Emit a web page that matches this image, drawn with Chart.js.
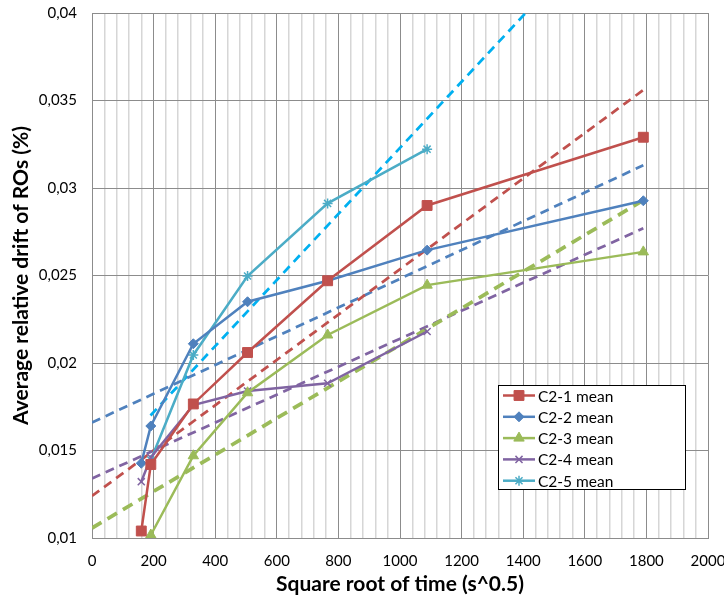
<!DOCTYPE html>
<html>
<head>
<meta charset="utf-8">
<script src="https://cdn.jsdelivr.net/npm/chart.js@4.4.1/dist/chart.umd.min.js"></script>
<style>
  html, body { margin: 0; padding: 0; background: #fff; }
  #wrap { width: 724px; height: 599px; position: relative; }
</style>
</head>
<body>
<div id="wrap"><canvas id="chart" width="724" height="599"></canvas></div>
<script>
// values (sqrt of time vs mean drift)
const labels = ['C2-1 mean', 'C2-2 mean', 'C2-3 mean', 'C2-4 mean', 'C2-5 mean'];
const xC1 = [160, 191, 329, 505, 765, 1088, 1790];
const yC1 = [0.0104, 0.0142, 0.01766, 0.0206, 0.0247, 0.029, 0.0329];
const xC2 = [160, 191, 329, 505, 765, 1088, 1790];
const yC2 = [0.01427, 0.0164, 0.0211, 0.0235, 0.0247, 0.02645, 0.02927];
const xC3 = [191, 329, 505, 765, 1088, 1790];
const yC3 = [0.01017, 0.0147, 0.0183, 0.0216, 0.02445, 0.02635];
const xC4 = [160, 191, 329, 505, 765, 1088];
const yC4 = [0.01322, 0.0146, 0.0176, 0.0184, 0.01884, 0.0218];
const xC5 = [191, 329, 505, 765, 1088];
const yC5 = [0.01446, 0.02046, 0.02497, 0.02912, 0.03222];

// trend lines (end points)
const trendX1 = [0, 1790], trendY1 = [0.0124, 0.0356];
const trendX2 = [0, 1790], trendY2 = [0.0166, 0.0313];
const trendX3 = [0, 1790], trendY3 = [0.01057, 0.0293];
const trendX4 = [0, 1790], trendY4 = [0.0134, 0.0277];
const trendX5 = [190, 1408], trendY5 = [0.0170, 0.040];

const xTicks = [0, 200, 400, 600, 800, 1000, 1200, 1400, 1600, 1800, 2000];

const pts = (xs, ys) => xs.map((x, i) => ({ x, y: ys[i] }));

const colors = ['#C0504D', '#4F81BD', '#9BBB59', '#8064A2', '#4BACC6'];
const styles = ['rect', 'rectRot', 'triangle', 'crossRot', 'star'];
const radii = [7, 5, 6, 5, 5];
const series = [[xC1, yC1], [xC2, yC2], [xC3, yC3], [xC4, yC4], [xC5, yC5]];

const mainSets = series.map((s, i) => ({
  label: labels[i],
  data: pts(s[0], s[1]),
  showLine: true,
  borderColor: colors[i],
  backgroundColor: colors[i],
  borderWidth: 2.5,
  pointStyle: styles[i],
  pointRadius: radii[i],
  pointBorderWidth: (i >= 3) ? 1.5 : 1,
  pointBackgroundColor: colors[i],
  pointBorderColor: colors[i],
  tension: 0
}));

const trendSets = [
  [trendX1, trendY1, '#C0504D', 2.75, [9, 6]],
  [trendX2, trendY2, '#4F81BD', 2.75, [9, 6]],
  [trendX3, trendY3, '#9BBB59', 3.75, [11, 7]],
  [trendX4, trendY4, '#8064A2', 2.75, [9, 6]],
  [trendX5, trendY5, '#00B0F0', 2.75, [9, 6]]
].map(t => ({
  label: 'trend',
  data: pts(t[0], t[1]),
  showLine: true,
  borderColor: t[2],
  borderWidth: t[3],
  borderDash: t[4],
  pointRadius: 0,
  tension: 0
}));

// legend drawn inside the plot, like the original
const boxLegend = {
  id: 'boxLegend',
  afterDraw(chart) {
    const ctx = chart.ctx;
    const x0 = 498, y0 = 385, w = 187, h = 104;
    ctx.save();
    ctx.fillStyle = '#fff';
    ctx.fillRect(x0, y0, w, h);
    ctx.strokeStyle = '#000';
    ctx.lineWidth = 1;
    ctx.strokeRect(x0 + 0.5, y0 + 0.5, w, h);
    ctx.font = '15.5px Lato';
    ctx.textBaseline = 'middle';
    labels.forEach((lab, i) => {
      const y = 395.5 + i * 21.3;
      ctx.strokeStyle = colors[i];
      ctx.fillStyle = colors[i];
      ctx.lineWidth = 2.5;
      ctx.beginPath();
      ctx.moveTo(503, y);
      ctx.lineTo(535, y);
      ctx.stroke();
      ctx.lineWidth = i >= 3 ? 1.5 : 1;
      Chart.helpers.drawPoint(ctx, { pointStyle: styles[i], radius: radii[i], rotation: 0, borderWidth: 1 }, 519, y);
      ctx.fillStyle = '#000';
      ctx.fillText(lab, 538, y + 1);
    });
    ctx.restore();
  }
};

const fmtY = v => parseFloat(v.toFixed(4)).toString().replace('.', ',');

new Chart(document.getElementById('chart'), {
  type: 'scatter',
  data: { datasets: [...mainSets, ...trendSets] },
  options: {
    responsive: false,
    animation: false,
    layout: { padding: { left: 0, right: 16, top: 13, bottom: 0 } },
    plugins: { legend: { display: false }, tooltip: { enabled: false } },
    scales: {
      x: {
        type: 'linear',
        min: 0,
        max: 2000,
        afterFit: s => { s.height = 61; s.paddingLeft = 0; s.paddingRight = 0; },
        ticks: {
          stepSize: 40,
          autoSkip: false,
          maxRotation: 0,
          padding: 14,
          color: '#000',
          font: { family: 'Lato', size: 15 },
          callback: v => xTicks.includes(v) ? String(v) : ''
        },
        grid: {
          drawTicks: false,
          color: c => (c.tick && c.tick.value % 200 === 0) ? '#8C8C8C' : '#D6D6D6',
          lineWidth: c => (c.tick && c.tick.value % 200 === 0) ? 1 : 1.5
        },
        border: { color: '#8C8C8C' },
        title: {
          display: true,
          text: 'Square root of time (s^0.5)',
          color: '#000',
          font: { family: 'Lato', size: 21, weight: 'bold' },
          padding: { top: 0, bottom: 2 }
        }
      },
      y: {
        min: 0.01,
        max: 0.04,
        afterFit: s => { s.width = 92; s.paddingTop = 0; s.paddingBottom = 0; },
        ticks: {
          stepSize: 0.005,
          padding: 15,
          color: '#000',
          font: { family: 'Lato', size: 15 },
          callback: v => fmtY(v)
        },
        grid: { drawTicks: false, color: '#8C8C8C' },
        border: { color: '#8C8C8C' },
        title: {
          display: true,
          text: 'Average relative drift of ROs (%)',
          color: '#000',
          font: { family: 'Lato', size: 21, weight: 'bold' },
          padding: { top: 9, bottom: 0 }
        }
      }
    }
  },
  plugins: [boxLegend]
});
</script>
</body>
</html>
